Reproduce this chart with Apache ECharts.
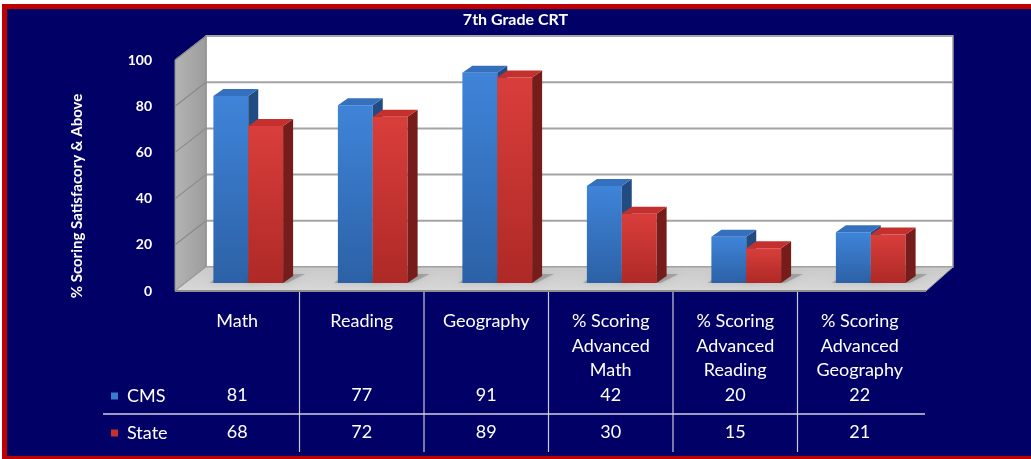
<!DOCTYPE html>
<html lang="en">
<head>
    <meta charset="UTF-8">
    <title>7th Grade CRT</title>
    <style>
        html, body {margin: 0; padding: 0; background: #fff;}
        #main {width: 1031px; height: 459px;}
    </style>
</head>
<body>
<div id="main"></div>
<script src="https://cdn.jsdelivr.net/npm/echarts@6/dist/echarts.min.js"></script>
<script>
    // 数据
    var categories = ['Math', 'Reading', 'Geography', '% Scoring\nAdvanced\nMath', '% Scoring\nAdvanced\nReading', '% Scoring\nAdvanced\nGeography'];
    var cmsValues = [81, 77, 91, 42, 20, 22];
    var stateValues = [68, 72, 89, 30, 15, 21];
    var yTicks = [0, 20, 40, 60, 80, 100];

    var FONT = 'Lato, "Open Sans", sans-serif';
    var NAVY = '#000066';

    // 3D偏移量
    var BACK_DX = 31, BACK_DY = -24;   // 后墙
    var BAR_DX = 11, BAR_DY = -8;      // 柱子所在平面
    var DEPTH_DX = 10, DEPTH_DY = -7;  // 柱子厚度

    var myChart = echarts.init(document.getElementById('main'));

    // 墙、地板、表格线
    function renderFrame(params, api) {
        var band = api.size([1, 0])[0];
        var left = api.coord([0, 0])[0] - band / 2;
        var right = api.coord([categories.length - 1, 0])[0] + band / 2;
        var y0 = api.coord([0, 0])[1];
        var yTop = api.coord([0, yTicks[yTicks.length - 1]])[1];
        var children = [];

        // 后墙
        children.push({
            type: 'rect',
            shape: {x: left + BACK_DX, y: yTop + BACK_DY, width: right - left, height: y0 - yTop},
            style: {fill: '#ffffff', stroke: '#9a9a9a', lineWidth: 1.5}
        });
        yTicks.forEach(function (t) {
            var y = api.coord([0, t])[1];
            children.push({
                type: 'line',
                shape: {x1: left + BACK_DX, y1: y + BACK_DY, x2: right + BACK_DX, y2: y + BACK_DY},
                style: {stroke: '#a4a4a4', lineWidth: 2}
            });
        });
        // 侧墙
        children.push({
            type: 'polygon',
            shape: {points: [[left, yTop], [left + BACK_DX, yTop + BACK_DY], [left + BACK_DX, y0 + BACK_DY], [left, y0]]},
            style: {
                fill: new echarts.graphic.LinearGradient(0, 0, 1, 0, [
                    {offset: 0, color: '#b4b4b4'}, {offset: 1, color: '#9c9c9c'}
                ]),
                stroke: '#8c8c8c', lineWidth: 1
            }
        });
        yTicks.forEach(function (t) {
            var y = api.coord([0, t])[1];
            children.push({
                type: 'line',
                shape: {x1: left, y1: y, x2: left + BACK_DX, y2: y + BACK_DY},
                style: {stroke: '#8a8a8a', lineWidth: 1.2}
            });
        });
        // 地板
        children.push({
            type: 'polygon',
            shape: {points: [[left, y0], [left + BACK_DX, y0 + BACK_DY], [right + BACK_DX, y0 + BACK_DY], [right + 4, y0]]},
            style: {
                fill: new echarts.graphic.LinearGradient(0, 0, 0, 1, [
                    {offset: 0, color: '#c9c9c9'}, {offset: 1, color: '#d8d8d8'}
                ]),
                stroke: '#a0a0a0', lineWidth: 1
            }
        });
        children.push({
            type: 'line',
            shape: {x1: left, y1: y0, x2: right + 4, y2: y0},
            style: {stroke: '#8e8e8e', lineWidth: 2}
        });

        // 数据表格线
        for (var i = 1; i < categories.length; i++) {
            children.push({
                type: 'line',
                shape: {x1: left + i * band, y1: y0 + 1, x2: left + i * band, y2: y0 + 161},
                style: {stroke: '#c8c8dc', lineWidth: 1.2}
            });
        }
        children.push({
            type: 'line',
            shape: {x1: 103, y1: y0 + 123, x2: right + 3, y2: y0 + 123},
            style: {stroke: '#d0d0e0', lineWidth: 1.5}
        });

        return {type: 'group', children: children};
    }

    function makeBarRenderer(side, colors, rowOffset) {
        return function (params, api) {
            var idx = api.value(0);
            var val = api.value(1);
            var base = api.coord([idx, 0]);
            var topPt = api.coord([idx, val]);
            var bw = api.size([1, 0])[0] * 0.28;
            var x = base[0] + BAR_DX + (side === 0 ? -bw : 0);
            var yb = base[1] + BAR_DY;
            var yt = topPt[1] + BAR_DY;
            return {
                type: 'group',
                children: [{
                    // 地板上的阴影
                    type: 'polygon',
                    shape: {points: [[x - 4, yb], [x + 8, yb - 9], [x + bw + DEPTH_DX + 12, yb - 9], [x + bw + 4, yb]]},
                    style: {fill: 'rgba(90,90,90,0.35)', shadowBlur: 6, shadowColor: 'rgba(0,0,0,0.3)'}
                }, {
                    type: 'rect',
                    shape: {x: x, y: yt, width: bw, height: yb - yt},
                    style: {
                        fill: new echarts.graphic.LinearGradient(0, 0, 0, 1, [
                            {offset: 0, color: colors.light}, {offset: 1, color: colors.dark}
                        ])
                    }
                }, {
                    type: 'polygon',
                    shape: {points: [[x + bw, yt], [x + bw + DEPTH_DX, yt + DEPTH_DY], [x + bw + DEPTH_DX, yb + DEPTH_DY], [x + bw, yb]]},
                    style: {fill: colors.side}
                }, {
                    type: 'polygon',
                    shape: {points: [[x, yt], [x + DEPTH_DX, yt + DEPTH_DY], [x + bw + DEPTH_DX, yt + DEPTH_DY], [x + bw, yt]]},
                    style: {fill: colors.top}
                }, {
                    // 表格中的数值
                    type: 'text',
                    x: base[0],
                    y: base[1] + rowOffset,
                    style: {
                        text: String(val), fill: '#ffffff', font: '18px ' + FONT,
                        align: 'center', verticalAlign: 'middle'
                    }
                }]
            };
        };
    }

    var blue = {light: '#3f84d9', dark: '#2c61a6', side: '#224b82', top: '#3470bd'};
    var red = {light: '#d93e3b', dark: '#ae2926', side: '#761c1a', top: '#c3302d'};

    var option = {
        backgroundColor: '#ffffff',
        animation: false,
        graphic: [
            {type: 'rect', z: -10, shape: {x: 2, y: 4, width: 1100, height: 500}, style: {fill: '#c00000'}},
            {type: 'rect', z: -9, shape: {x: 7, y: 9, width: 1100, height: 447}, style: {fill: NAVY}},
            {
                type: 'text', z: 5, x: 77, y: 196, rotation: Math.PI / 2,
                style: {
                    text: '% Scoring Satisfacory & Above', fill: '#ffffff',
                    font: 'bold 15px ' + FONT, align: 'center', verticalAlign: 'middle'
                }
            }
        ],
        title: {
            text: '7th Grade CRT',
            left: 'center',
            top: 7,
            textStyle: {color: '#ffffff', fontSize: 16, fontWeight: 'bold', fontFamily: FONT}
        },
        legend: {
            data: ['CMS', 'State'],
            orient: 'vertical',
            left: 106,
            top: 381,
            icon: 'rect',
            itemWidth: 7,
            itemHeight: 7,
            itemGap: 17,
            selectedMode: false,
            textStyle: {color: '#ffffff', fontSize: 18, fontFamily: FONT, lineHeight: 20, padding: [0, 0, 0, 4]}
        },
        grid: {left: 175, right: 109, top: 60, bottom: 168},
        xAxis: {
            type: 'category',
            data: categories,
            axisLine: {show: false},
            axisTick: {show: false},
            splitLine: {show: false},
            axisLabel: {
                interval: 0,
                margin: 18,
                color: '#ffffff',
                fontSize: 18,
                lineHeight: 24.5,
                fontFamily: FONT
            }
        },
        yAxis: {
            type: 'value',
            min: 0,
            max: 100,
            interval: 20,
            axisLine: {show: false},
            axisTick: {show: false},
            splitLine: {show: false},
            axisLabel: {
                margin: 23,
                color: '#ffffff',
                fontSize: 14,
                fontWeight: 'bold',
                fontFamily: FONT
            }
        },
        series: [{
            type: 'custom',
            name: 'frame',
            silent: true,
            z: 1,
            renderItem: renderFrame,
            data: [[0, 0]]
        }, {
            type: 'custom',
            name: 'CMS',
            z: 3,
            itemStyle: {color: '#3a7bd0'},
            renderItem: makeBarRenderer(0, blue, 104),
            data: cmsValues.map(function (v, i) { return [i, v]; })
        }, {
            type: 'custom',
            name: 'State',
            z: 4,
            itemStyle: {color: '#c8302d'},
            renderItem: makeBarRenderer(1, red, 141),
            data: stateValues.map(function (v, i) { return [i, v]; })
        }]
    };

    myChart.setOption(option);
</script>
</body>
</html>
